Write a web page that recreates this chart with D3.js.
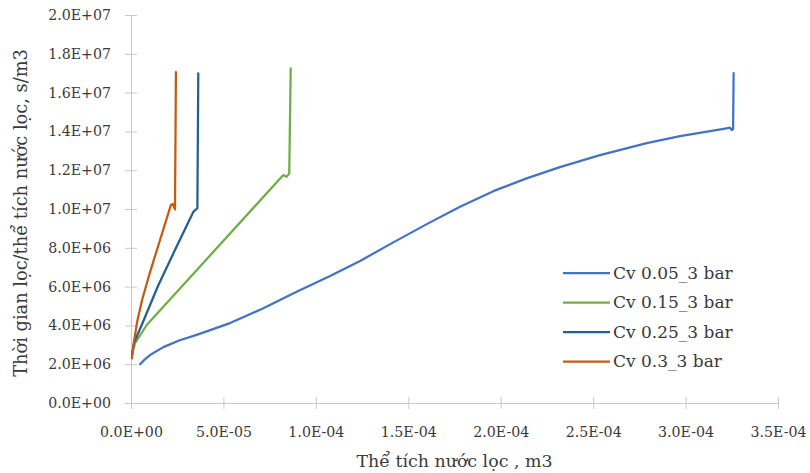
<!DOCTYPE html>
<html lang="vi">
<head>
<meta charset="UTF-8">
<title>Thời gian lọc / thể tích nước lọc</title>
<script src="https://d3js.org/d3.v7.min.js"></script>
<style>
    body { margin: 0; background: #fff; }
    svg text { font-family: "DejaVu Serif", serif; fill: #3a3a3a; }
</style>
</head>
<body>
<div id="chart"></div>
<script>
// data: [volume m3, time/volume s/m3]
var cv005 = [[0.49e-5,2.00e6],[0.75e-5,2.25e6],[1.03e-5,2.47e6],[1.75e-5,2.88e6],[2.6e-5,3.22e6],[3.55e-5,3.51e6],
             [5.36e-5,4.12e6],[7.16e-5,4.88e6],[8.96e-5,5.74e6],[10.77e-5,6.55e6],[12.39e-5,7.32e6],[14.19e-5,8.28e6],
             [16.0e-5,9.22e6],[17.8e-5,10.12e6],[19.6e-5,10.92e6],[21.4e-5,11.58e6],[23.2e-5,12.16e6],
             [25.37e-5,12.78e6],[27.9e-5,13.40e6],[29.7e-5,13.76e6],[32.22e-5,14.16e6],[32.4e-5,14.19e6],
             [32.5e-5,14.07e6],[32.57e-5,14.12e6],[32.6e-5,17.0e6]];
var cv015 = [[0.08e-5,2.63e6],[0.22e-5,3.08e6],[0.85e-5,4.02e6],[8.24e-5,11.75e6],
             [8.42e-5,11.66e6],[8.56e-5,11.84e6],[8.64e-5,17.25e6]];
var cv025 = [[0.05e-5,2.47e6],[0.16e-5,3.09e6],[0.58e-5,4.02e6],[1.46e-5,6.03e6],[2.43e-5,7.99e6],
             [3.37e-5,9.85e6],[3.59e-5,10.04e6],[3.64e-5,16.99e6]];
var cv03  = [[0.05e-5,2.30e6],[0.16e-5,3.14e6],[0.33e-5,4.18e6],[0.60e-5,5.31e6],[1.03e-5,6.75e6],
             [1.57e-5,8.40e6],[2.16e-5,10.21e6],[2.26e-5,10.26e6],[2.38e-5,9.98e6],[2.43e-5,17.05e6]];

var seriesNames = ["Cv 0.05_3 bar", "Cv 0.15_3 bar", "Cv 0.25_3 bar", "Cv 0.3_3 bar"];
var seriesData = [cv005, cv015, cv025, cv03];
var seriesColors = ["#4472C4", "#70AD47", "#255E91", "#C55A11"];

var xTicks = [0, 5e-5, 1e-4, 1.5e-4, 2e-4, 2.5e-4, 3e-4, 3.5e-4];
var xTickLabels = ["0.0E+00","5.0E-05","1.0E-04","1.5E-04","2.0E-04","2.5E-04","3.0E-04","3.5E-04"];
var yTicks = [0, 2e6, 4e6, 6e6, 8e6, 1e7, 1.2e7, 1.4e7, 1.6e7, 1.8e7, 2e7];
var yTickLabels = ["0.0E+00","2.0E+06","4.0E+06","6.0E+06","8.0E+06","1.0E+07",
                   "1.2E+07","1.4E+07","1.6E+07","1.8E+07","2.0E+07"];

var xTitle = "Thể tích nước lọc , m3";
var yTitle = "Thời gian lọc/thể tích nước lọc, s/m3";

var width = 810, height = 473;
var margin = {left: 131, right: 32, top: 15, bottom: 70};

var svg = d3.select("#chart").append("svg")
    .attr("width", width)
    .attr("height", height);

var x = d3.scaleLinear().domain([0, 3.5e-4]).range([margin.left, width - margin.right]);
var y = d3.scaleLinear().domain([0, 2e7]).range([height - margin.bottom, margin.top]);

var axisColor = "#c9c9c9";

var xAxis = svg.append("g")
    .attr("transform", "translate(0," + y(0) + ")")
    .call(d3.axisBottom(x).tickValues(xTicks).tickSize(6).tickPadding(18)
        .tickFormat(function(d, i) { return xTickLabels[i]; }));
xAxis.select(".domain").attr("stroke", axisColor);
xAxis.selectAll(".tick line").attr("stroke", axisColor).attr("y1", -6);
xAxis.selectAll(".tick text").attr("font-size", 14.2).style("fill", "#3a3a3a");

var yAxis = svg.append("g")
    .attr("transform", "translate(" + x(0) + ",0)")
    .call(d3.axisLeft(y).tickValues(yTicks).tickSize(6).tickPadding(14)
        .tickFormat(function(d, i) { return yTickLabels[i]; }));
yAxis.select(".domain").attr("stroke", axisColor);
yAxis.selectAll(".tick line").attr("stroke", axisColor).attr("x1", 6);
yAxis.selectAll(".tick text").attr("font-size", 14.2).style("fill", "#3a3a3a");

var line = d3.line()
    .x(function(d) { return x(d[0]); })
    .y(function(d) { return y(d[1]); });

svg.selectAll(".series")
    .data(seriesData)
    .enter().append("path")
    .attr("class", "series")
    .attr("d", line)
    .attr("fill", "none")
    .attr("stroke", function(d, i) { return seriesColors[i]; })
    .attr("stroke-width", 2.25)
    .attr("stroke-linejoin", "round")
    .attr("stroke-linecap", "round");

// legend
var legend = svg.append("g").attr("transform", "translate(563,273)");
var item = legend.selectAll(".item")
    .data(seriesNames)
    .enter().append("g")
    .attr("transform", function(d, i) { return "translate(0," + (i * 29.5) + ")"; });
item.append("line")
    .attr("x1", 0).attr("x2", 47)
    .attr("stroke", function(d, i) { return seriesColors[i]; })
    .attr("stroke-width", 2.25);
item.append("text")
    .attr("x", 50).attr("dy", "0.35em")
    .attr("font-size", 17)
    .text(function(d) { return d; });

// axis titles
svg.append("text")
    .attr("x", (x(0) + x(3.5e-4)) / 2)
    .attr("y", 467)
    .attr("text-anchor", "middle")
    .attr("font-size", 17.4)
    .text(xTitle);

svg.append("text")
    .attr("transform", "translate(27,213) rotate(-90)")
    .attr("text-anchor", "middle")
    .attr("font-size", 17.8)
    .text(yTitle);
</script>
</body>
</html>
